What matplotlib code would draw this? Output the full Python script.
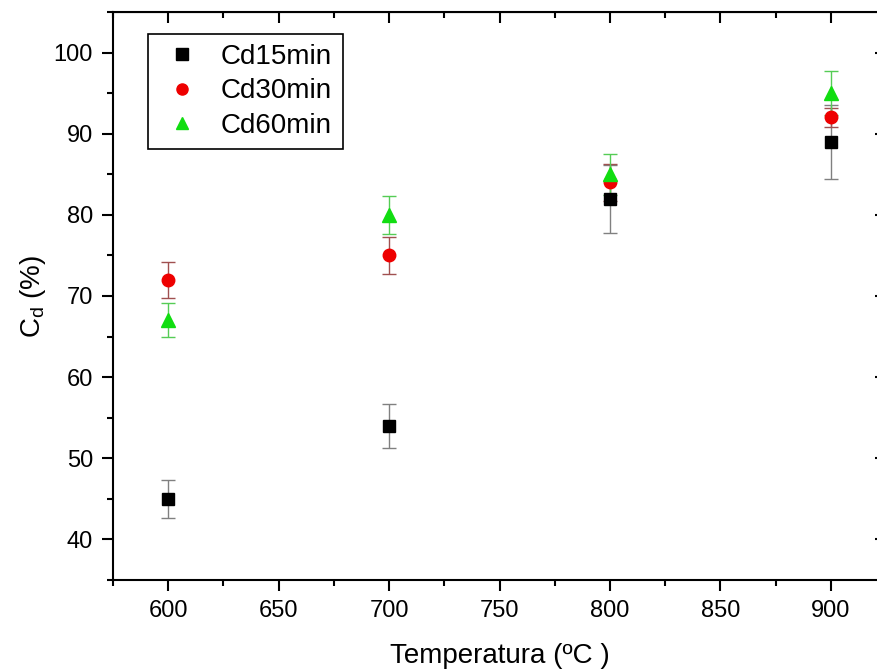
import matplotlib
matplotlib.use("Agg")
import matplotlib.pyplot as plt
from matplotlib.ticker import MultipleLocator

plt.rcParams['font.family'] = ['Liberation Sans', 'DejaVu Sans']

temps = [600, 700, 800, 900]
cd15 = [45, 54, 82, 89]
cd15_err = [2.3, 2.7, 4.2, 4.6]
cd30 = [72, 75, 84, 92]
cd30_err = [2.2, 2.3, 2.3, 1.2]
cd60 = [67, 80, 85, 95]
cd60_err = [2.1, 2.3, 2.5, 2.7]

fig = plt.figure(figsize=(8.77, 6.69), dpi=100)
ax = fig.add_axes([113/877, 89/669, (886-113)/877, (580-12)/669])

series = [
    ("Cd15min", cd15, cd15_err, 's', 'black', '#808080', 8),
    ("Cd30min", cd30, cd30_err, 'o', '#ee0000', '#a05050', 9),
    ("Cd60min", cd60, cd60_err, '^', '#11dd11', '#55cc55', 10),
]
handles = []
labels = []
for label, vals, errs, mk, col, ecol, ms in series:
    c = ax.errorbar(temps, vals, yerr=errs, fmt=mk, color=col, ecolor=ecol,
                    markersize=ms, elinewidth=1.0, capsize=5, capthick=1.0,
                    label=label, markeredgecolor=col)
    handles.append(c[0])
    labels.append(label)

ax.set_xlim(575, 925)
ax.set_ylim(35, 105)
ax.xaxis.set_major_locator(MultipleLocator(50))
ax.xaxis.set_minor_locator(MultipleLocator(25))
ax.set_yticks([40, 50, 60, 70, 80, 90, 100])
ax.yaxis.set_minor_locator(MultipleLocator(5))

ax.tick_params(which='both', direction='out', top=False, right=False, width=1.5,
               labelsize=17, pad=6.5)
ax.tick_params(which='major', length=8)
ax.tick_params(which='minor', length=4.5)

ax2 = ax.secondary_xaxis('top')
ax2.xaxis.set_major_locator(MultipleLocator(50))
ax2.xaxis.set_minor_locator(MultipleLocator(25))
ax2.tick_params(which='both', direction='in', labeltop=False, width=1.5)
ax2.tick_params(which='major', length=8)
ax2.tick_params(which='minor', length=4)
ax2.set_xticklabels([])
ax3 = ax.secondary_yaxis('right')
ax3.set_yticks([40, 50, 60, 70, 80, 90, 100])
ax3.yaxis.set_minor_locator(MultipleLocator(5))
ax3.tick_params(which='both', direction='in', labelright=False, width=1.5)
ax3.tick_params(which='major', length=8)
ax3.tick_params(which='minor', length=4)
ax3.set_yticklabels([])

for sp in ax.spines.values():
    sp.set_linewidth(1.5)

ax.set_xlabel("Temperatura (ºC )", fontsize=20, labelpad=15)
ax.set_ylabel("C$_\\mathregular{d}$ (%)", fontsize=20, labelpad=4)

leg = ax.legend(handles=handles, labels=labels, loc='upper left', bbox_to_anchor=(0.045, 0.962),
                fontsize=20, frameon=True, fancybox=False, edgecolor='black', framealpha=1,
                handletextpad=0.55, handlelength=1.7, borderpad=0.38, labelspacing=0.3,
                borderaxespad=0, numpoints=1)
leg.get_frame().set_linewidth(1.2)
for h in leg.legend_handles:
    h.set_markersize(8)

fig.savefig("out.png", dpi=100)
